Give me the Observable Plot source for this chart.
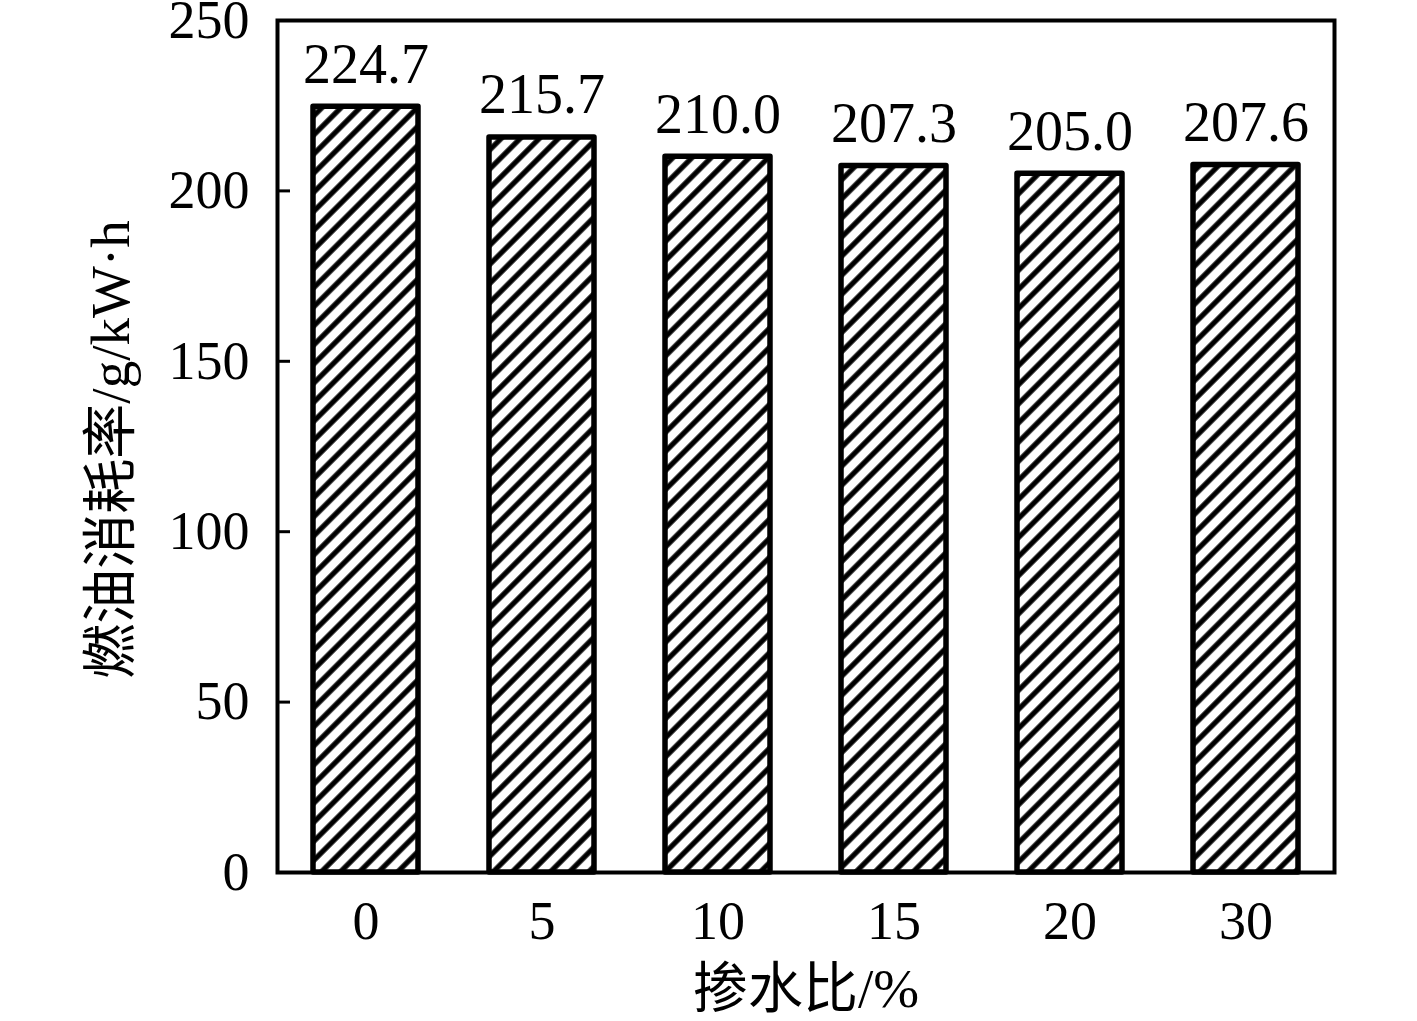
<!DOCTYPE html>
<html><head><meta charset="utf-8">
<script src="https://cdn.jsdelivr.net/npm/d3@7"></script>
<script src="https://cdn.jsdelivr.net/npm/@observablehq/plot@0.6"></script>
<style>body{margin:0;background:#fff}</style>
</head><body><div id="chart"></div>
<script>
const ratios = ["0", "5", "10", "15", "20", "30"];
const consumption = [224.7, 215.7, 210.0, 207.3, 205.0, 207.6];
const yTicks = [0, 50, 100, 150, 200, 250];
const xLabel = "掺水比/%";
const yLabel = "燃油消耗率/g/kW·h";

const data = ratios.map((r, i) => ({ratio: r, value: consumption[i]}));

const W = 1417, H = 1021, mL = 277, mR = 83, mT = 20, mB = 149;
const serif = "'Liberation Serif','Times New Roman','Noto Sans CJK SC',serif";

function hatchDefs() {
  const ns = "http://www.w3.org/2000/svg";
  const defs = document.createElementNS(ns, "defs");
  const p = document.createElementNS(ns, "pattern");
  p.setAttribute("id", "hatch");
  p.setAttribute("patternUnits", "userSpaceOnUse");
  p.setAttribute("width", "13.5");
  p.setAttribute("height", "13.5");
  p.setAttribute("patternTransform", "rotate(45)");
  const bg = document.createElementNS(ns, "rect");
  bg.setAttribute("width", "13.5"); bg.setAttribute("height", "13.5"); bg.setAttribute("fill", "white");
  const ln = document.createElementNS(ns, "line");
  ln.setAttribute("x1", "6.75"); ln.setAttribute("y1", "-1");
  ln.setAttribute("x2", "6.75"); ln.setAttribute("y2", "14.5");
  ln.setAttribute("stroke", "black"); ln.setAttribute("stroke-width", "5.2");
  p.appendChild(bg); p.appendChild(ln);
  defs.appendChild(p);
  return defs;
}

const chart = Plot.plot({
  width: W, height: H,
  marginLeft: mL, marginRight: mR, marginTop: mT, marginBottom: mB,
  style: {fontFamily: serif, background: "white", color: "black"},
  x: {type: "band", domain: ratios, paddingInner: 0.403, paddingOuter: 0.19},
  y: {domain: [0, 250]},
  marks: [
    hatchDefs,
    Plot.barY(data, {x: "ratio", y: "value", fill: "url(#hatch)", stroke: "black", strokeWidth: 5.5, strokeLinejoin: "round"}),
    Plot.tickY(yTicks, {y: d => d, insetRight: W - mL - mR - 13, stroke: "black", strokeWidth: 3}),
    Plot.frame({stroke: "black", strokeWidth: 4}),
    Plot.axisY({ticks: yTicks, tickSize: 0, tickPadding: 28, fontSize: 54, label: null, fontFamily: serif}),
    Plot.axisX({tickSize: 0, tickPadding: 28, fontSize: 54, label: null, fontFamily: serif}),
    Plot.text(data, {x: "ratio", y: "value", text: d => d.value.toFixed(1), lineAnchor: "bottom", dy: -24, fontSize: 56, fontFamily: serif}),
    Plot.text([xLabel], {frameAnchor: "bottom", textAnchor: "middle", dy: 134, lineAnchor: "bottom", fontSize: 55, fontFamily: serif}),
    Plot.text([yLabel], {frameAnchor: "left", textAnchor: "middle", lineAnchor: "middle", rotate: -90, dx: -166, dy: 3, fontSize: 55, fontFamily: serif})
  ]
});
document.getElementById("chart").appendChild(chart);
</script>
</body></html>
